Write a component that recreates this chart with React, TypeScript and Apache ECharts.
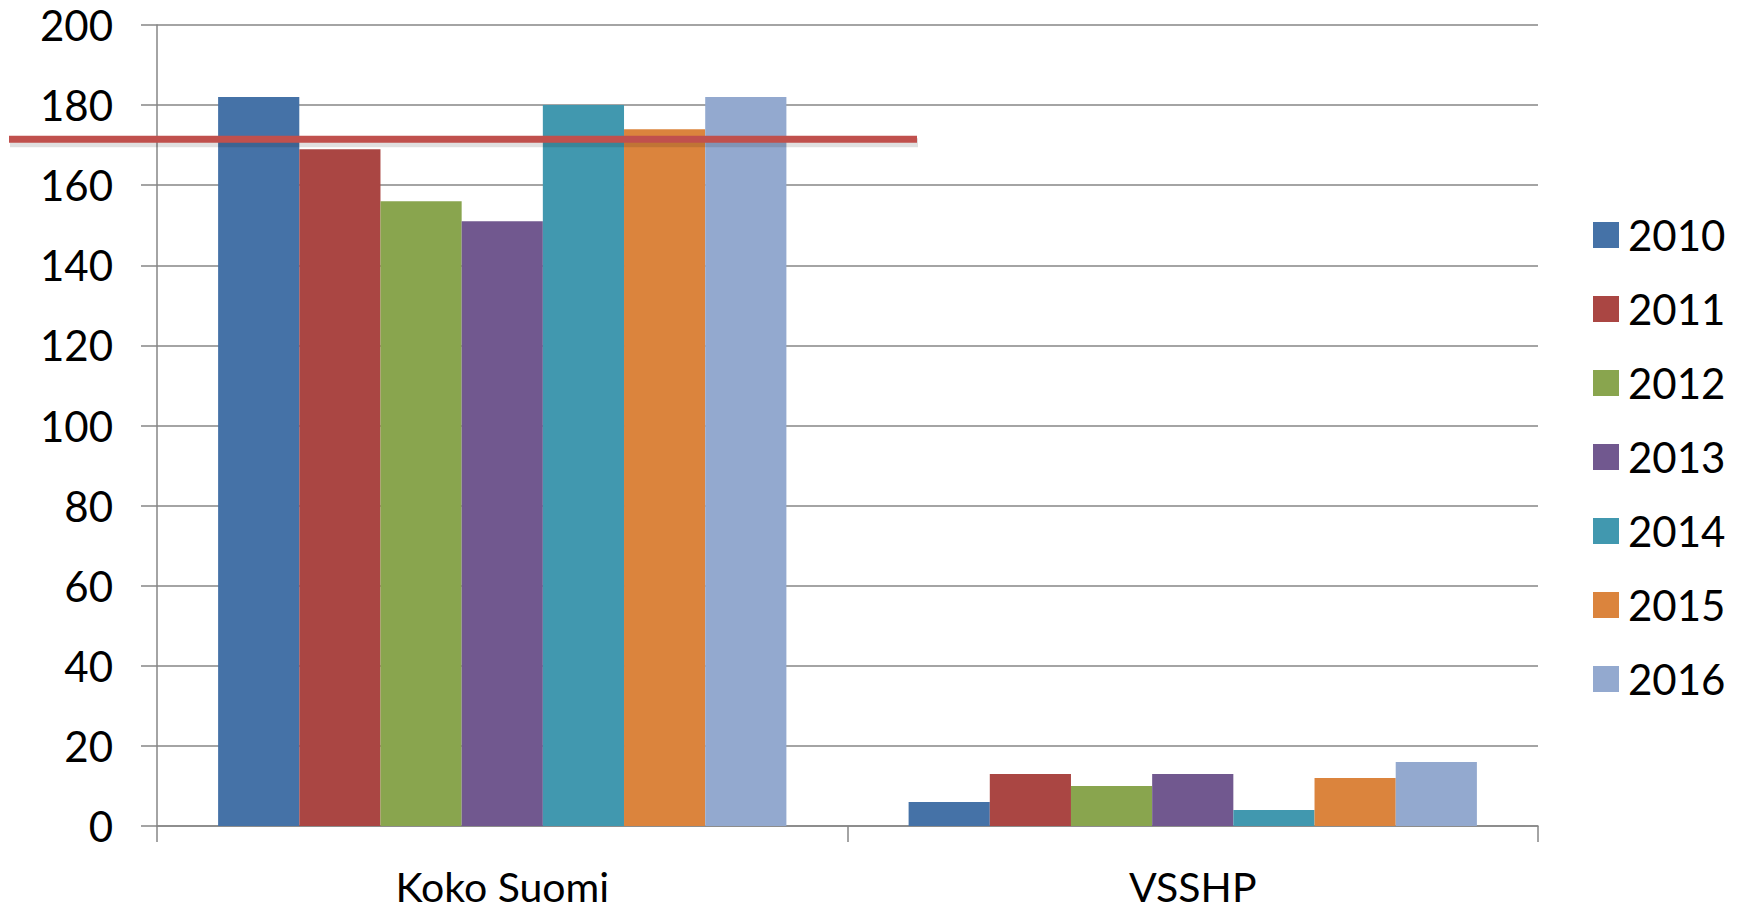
import React, { useEffect, useRef } from "react";
import * as echarts from "echarts";

const categories = ["Koko Suomi", "VSSHP"];
const years = ["2010", "2011", "2012", "2013", "2014", "2015", "2016"];
const values2010 = [182, 6];
const values2011 = [169, 13];
const values2012 = [156, 10];
const values2013 = [151, 13];
const values2014 = [180, 4];
const values2015 = [174, 12];
const values2016 = [182, 16];
const seriesValues = [values2010, values2011, values2012, values2013, values2014, values2015, values2016];
const colors = ["#4572A7", "#AA4643", "#89A54E", "#71588F", "#4198AF", "#DB843D", "#93A9CF"];
const yTicks = { min: 0, max: 200, interval: 20 };
const referenceValue = 171.5;

const FONT = "Lato, 'Open Sans', sans-serif";
const W = 1742;
const H = 908;
const GRID = { left: 157, top: 25, right: 204, bottom: 82 };

export default function App() {
  const ref = useRef<HTMLDivElement>(null);
  useEffect(() => {
    if (!ref.current) return;
    const chart = echarts.init(ref.current, null, { renderer: "svg", width: W, height: H });
    const plotH = H - GRID.top - GRID.bottom;
    const yPix = GRID.top + ((yTicks.max - referenceValue) / (yTicks.max - yTicks.min)) * plotH;
    chart.setOption({
      animation: false,
      backgroundColor: "#fff",
      grid: { ...GRID, containLabel: false },
      legend: {
        orient: "vertical",
        left: 1588,
        top: 209,
        itemWidth: 26,
        itemHeight: 26,
        itemGap: 32,
        icon: "rect",
        data: years,
        textStyle: { fontFamily: FONT, fontSize: 42, color: "#000", lineHeight: 42, padding: [0, 0, 0, 4] },
      },
      xAxis: {
        type: "category",
        data: categories,
        axisLine: { lineStyle: { color: "#868686", width: 1.5 } },
        axisTick: { show: true, length: 16, alignWithLabel: false, lineStyle: { color: "#868686", width: 1.5 } },
        axisLabel: { fontFamily: FONT, fontSize: 41, lineHeight: 40, color: "#000", margin: 40 },
        splitLine: { show: false },
      },
      yAxis: {
        type: "value",
        min: yTicks.min,
        max: yTicks.max,
        interval: yTicks.interval,
        axisLine: { show: true, lineStyle: { color: "#868686", width: 1.5 } },
        axisTick: { show: true, length: 16, lineStyle: { color: "#868686", width: 1.5 } },
        axisLabel: { fontFamily: FONT, fontSize: 42, color: "#000", margin: 44 },
        splitLine: { show: true, lineStyle: { color: "#868686", width: 1.5 } },
      },
      graphic: [
        {
          type: "rect",
          z: 99,
          shape: { x: 10, y: yPix - 1, width: 908, height: 9 },
          style: { fill: "rgba(0,0,0,0.12)" },
        },
        {
          type: "rect",
          z: 100,
          shape: { x: 9, y: yPix - 3.5, width: 908, height: 7 },
          style: { fill: "#C0504D" },
        },
      ],
      series: years.map((y, i) => ({
        name: y,
        type: "bar",
        data: seriesValues[i],
        barGap: "0%",
        barCategoryGap: "17.7%",
        itemStyle: { color: colors[i] },
      })),
    });
    return () => chart.dispose();
  }, []);
  return <div ref={ref} style={{ position: "fixed", left: 0, top: 0, width: W, height: H }} />;
}
